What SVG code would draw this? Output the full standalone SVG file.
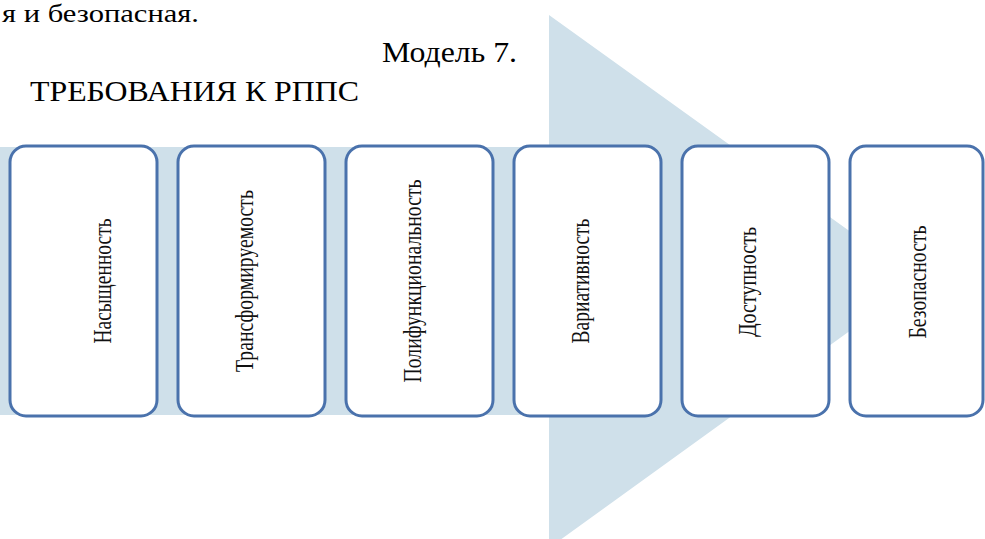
<svg xmlns="http://www.w3.org/2000/svg" width="985" height="539" viewBox="0 0 985 539">
  <style>
    .hd { font-family: "Liberation Serif", "Times New Roman", serif; font-size: 29px; fill: #000; }
    .box { fill: #ffffff; stroke: #4a72ac; stroke-width: 3; }
    .lbl { font-family: "Liberation Serif", "Times New Roman", serif; font-size: 26px; fill: #111; text-anchor: middle; }
    .bg { fill: #cfe0ea; }
  </style>
  <rect width="985" height="539" fill="#ffffff"/>
  <text class="hd" x="2" y="22" style="font-size:26px" textLength="197" lengthAdjust="spacingAndGlyphs">я и безопасная.</text>
  <text class="hd" x="382" y="62" textLength="135" lengthAdjust="spacingAndGlyphs">Модель 7.</text>
  <text class="hd" x="30" y="101" textLength="329" lengthAdjust="spacingAndGlyphs">ТРЕБОВАНИЯ К РППС</text>

  <g id="connectors">
    <path class="bg" d="M0,147 H549 V15 L919,281 L549,548 V415 H0 Z"/>
  </g>

  <g id="node1">
    <rect class="box" x="10" y="146" width="147" height="270" rx="16"/>
    <text class="lbl" transform="translate(111,281) rotate(-90)" textLength="125" lengthAdjust="spacingAndGlyphs">Насыщенность</text>
  </g>
  <g id="node2">
    <rect class="box" x="178" y="146" width="147" height="270" rx="16"/>
    <text class="lbl" transform="translate(253,281) rotate(-90)" textLength="182" lengthAdjust="spacingAndGlyphs">Трансформируемость</text>
  </g>
  <g id="node3">
    <rect class="box" x="346" y="146" width="147" height="270" rx="16"/>
    <text class="lbl" transform="translate(421,281) rotate(-90)" textLength="203" lengthAdjust="spacingAndGlyphs">Полифункциональность</text>
  </g>
  <g id="node4">
    <rect class="box" x="514" y="146" width="147" height="270" rx="16"/>
    <text class="lbl" transform="translate(589,281) rotate(-90)" textLength="125" lengthAdjust="spacingAndGlyphs">Вариативность</text>
  </g>
  <g id="node5">
    <rect class="box" x="682" y="146" width="147" height="270" rx="16"/>
    <text class="lbl" transform="translate(756,282) rotate(-90)" textLength="110" lengthAdjust="spacingAndGlyphs">Доступность</text>
  </g>
  <g id="node6">
    <rect class="box" x="850" y="146" width="133" height="270" rx="16"/>
    <text class="lbl" transform="translate(926,282) rotate(-90)" textLength="113" lengthAdjust="spacingAndGlyphs">Безопасность</text>
  </g>
</svg>
